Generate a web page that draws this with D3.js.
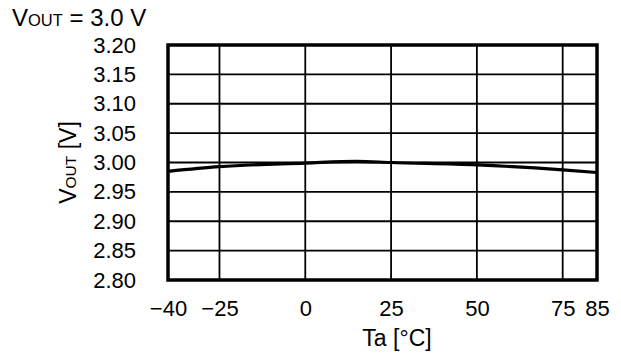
<!DOCTYPE html>
<html>
<head>
<meta charset="utf-8">
<script src="https://cdn.jsdelivr.net/npm/d3@7"></script>
<style>
  body { margin: 0; background: #fff; }
  text { font-family: "Liberation Sans", Arial, sans-serif; fill: #000; }
</style>
</head>
<body>
<svg width="621" height="360"></svg>
<script>
// temperature [°C] vs output voltage [V]
const temps = [-40, -25, 0, 15, 25, 50, 75, 85];
const vout = [2.985, 2.993, 2.999, 3.002, 3.000, 2.996, 2.9875, 2.983];
const xTicks = [-40, -25, 0, 25, 50, 75, 85];
const yTicks = [2.80, 2.85, 2.90, 2.95, 3.00, 3.05, 3.10, 3.15, 3.20];

const svg = d3.select("svg");
const margin = { top: 45, right: 24, bottom: 80, left: 168 };
const width = +svg.attr("width") - margin.left - margin.right;
const height = +svg.attr("height") - margin.top - margin.bottom;

const g = svg.append("g").attr("transform", `translate(${margin.left},${margin.top})`);

const x = d3.scaleLinear().domain([-40, 85]).range([0, width]);
const y = d3.scaleLinear().domain([2.80, 3.20]).range([height, 0]);

// grid
g.selectAll(".vgrid")
  .data(xTicks.filter(d => d > -40 && d < 85))
  .enter().append("line")
  .attr("x1", d => x(d)).attr("x2", d => x(d))
  .attr("y1", 0).attr("y2", height)
  .attr("stroke", "#000").attr("stroke-width", 1.8);

g.selectAll(".hgrid")
  .data(yTicks.filter(d => d > 2.8 && d < 3.2))
  .enter().append("line")
  .attr("x1", 0).attr("x2", width)
  .attr("y1", d => y(d)).attr("y2", d => y(d))
  .attr("stroke", "#000").attr("stroke-width", 1.8);

// frame
g.append("rect")
  .attr("width", width).attr("height", height)
  .attr("fill", "none").attr("stroke", "#000").attr("stroke-width", 3.5);

// axes (labels only)
const fmtY = d3.format(".2f");
const yAxis = g.append("g")
  .call(d3.axisLeft(y).tickValues(yTicks).tickFormat(fmtY).tickSize(0).tickPadding(32));
const xAxis = g.append("g").attr("transform", `translate(0,${height})`)
  .call(d3.axisBottom(x).tickValues(xTicks).tickFormat(d => d < 0 ? "\u2212" + Math.abs(d) : d).tickSize(0).tickPadding(20));
[xAxis, yAxis].forEach(a => {
  a.select(".domain").remove();
  a.selectAll("text").attr("font-size", 22).attr("font-family", "Liberation Sans, Arial, sans-serif");
});

// curve
const line = d3.line()
  .x((d, i) => x(temps[i]))
  .y(d => y(d))
  .curve(d3.curveMonotoneX);
g.append("path")
  .datum(vout)
  .attr("d", line)
  .attr("fill", "none")
  .attr("stroke", "#000")
  .attr("stroke-width", 3.2);

// titles
const title = svg.append("text").attr("x", 12).attr("y", 26).attr("font-size", 24);
title.append("tspan").text("V");
title.append("tspan").attr("font-size", 16.5).text("OUT");
title.append("tspan").text(" = 3.0 V");

svg.append("text")
  .attr("x", 397).attr("y", 346)
  .attr("text-anchor", "middle").attr("font-size", 23)
  .text("Ta [\u00B0C]");

const ylab = svg.append("text")
  .attr("transform", `translate(76,${margin.top + height / 2}) rotate(-90)`)
  .attr("text-anchor", "middle").attr("font-size", 23);
ylab.append("tspan").text("V");
ylab.append("tspan").attr("font-size", 15.5).text("OUT");
ylab.append("tspan").text(" [V]");
</script>
</body>
</html>
